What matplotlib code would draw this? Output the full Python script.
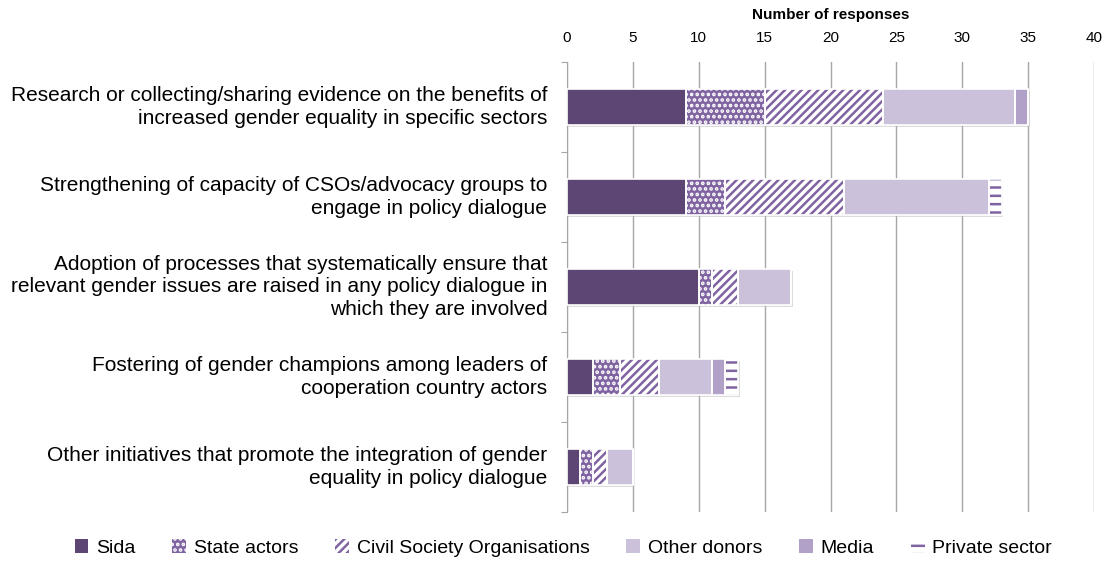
import numpy as np
import matplotlib.pyplot as plt

plt.rcParams['font.family'] = ['Liberation Sans', 'DejaVu Sans']
plt.rcParams['hatch.linewidth'] = 1.8

categories = [
    'Research or collecting/sharing evidence on the benefits of\nincreased gender equality in specific sectors',
    'Strengthening of capacity of CSOs/advocacy groups to\nengage in policy dialogue',
    'Adoption of processes that systematically ensure that\nrelevant gender issues are raised in any policy dialogue in\nwhich they are involved',
    'Fostering of gender champions among leaders of\ncooperation country actors',
    'Other initiatives that promote the integration of gender\nequality in policy dialogue',
]
series = ['Sida', 'State actors', 'Civil Society Organisations', 'Other donors', 'Media', 'Private sector']
sida = [9, 9, 10, 2, 1]
state = [6, 3, 1, 2, 1]
cso = [9, 9, 2, 3, 1]
donors = [10, 11, 4, 4, 2]
media = [1, 0, 0, 1, 0]
private = [0, 1, 0, 1, 0]

values = [sida, state, cso, donors, media, private]
styles = [
    dict(color='#5E4674', hatch=None, edge='#5E4674'),
    dict(color='#8064A2', hatch='...', edge='white'),
    dict(color='white', hatch='////', edge='#8064A2'),
    dict(color='#CCC1DA', hatch=None, edge='#CCC1DA'),
    dict(color='#B1A0C7', hatch=None, edge='#B1A0C7'),
    dict(color='white', hatch='--', edge='#8064A2'),
]

fig = plt.figure(figsize=(11.09, 5.62), dpi=100)
ax = fig.add_axes([567 / 1109, 50 / 562, 527 / 1109, 450 / 562])

y = np.arange(len(categories))
left = np.zeros(len(categories))
handles = []
for name, vals, st in zip(series, values, styles):
    vals = np.array(vals, dtype=float)
    bars = ax.barh(y, vals, left=left, height=0.4, color=st['color'],
                   edgecolor=st['edge'], hatch=st['hatch'], linewidth=0, zorder=3,
                   label=name)
    # white separators between segments
    ax.barh(y, vals, left=left, height=0.4, fill=False, edgecolor='white',
            linewidth=1.2, zorder=4)
    handles.append(bars)
    left += vals

# soft shadow behind the bars
ax.barh(y + 0.025, left + 0.12, height=0.4, color='#BBBBBB', alpha=0.5, zorder=2,
        linewidth=0)

ax.set_xlim(0, 40)
ax.set_ylim(len(categories) - 0.5, -0.5)
ax.set_xticks(np.arange(0, 41, 5))
ax.xaxis.tick_top()
ax.xaxis.set_label_position('top')
ax.set_xlabel('Number of responses', fontsize=11, fontweight='bold', labelpad=9)
ax.tick_params(axis='x', length=0, labelsize=11, pad=12)
ax.grid(axis='x', color='#A6A6A6', linewidth=1, zorder=0)
ax.set_axisbelow(True)

ax.set_yticks(np.arange(-0.5, len(categories), 1))
ax.set_yticklabels([])
ax.tick_params(axis='y', length=4, color='#A6A6A6', direction='out')
for i, c in enumerate(categories):
    ax.text(-1.5, i, c, ha='right', va='center', fontsize=15, linespacing=1.25,
            transform=ax.transData)

for s in ['top', 'right', 'bottom']:
    ax.spines[s].set_visible(False)
ax.spines['left'].set_color('#A6A6A6')

fig.legend(handles=handles, labels=series, loc='lower center', ncol=6,
           bbox_to_anchor=(0.508, -0.022), frameon=False, fontsize=14,
           handlelength=0.7, handleheight=0.7, handletextpad=0.4, columnspacing=1.9)

fig.savefig('out.png', dpi=100)
